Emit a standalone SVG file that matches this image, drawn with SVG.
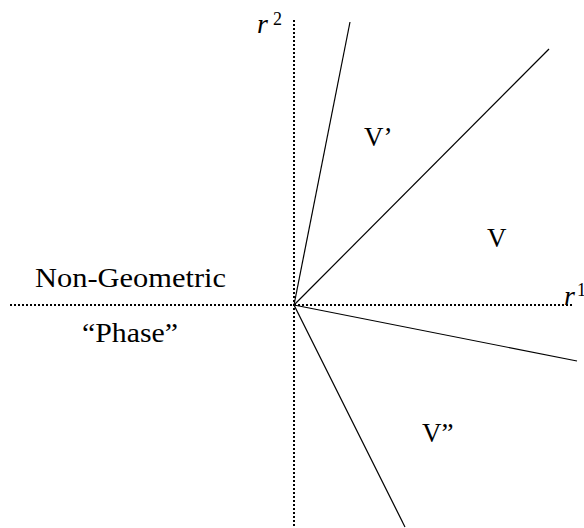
<svg xmlns="http://www.w3.org/2000/svg" width="584" height="528" viewBox="0 0 584 528">
<style>
.axis{stroke:#000;stroke-width:2;stroke-dasharray:2 2;fill:none}
.ray{stroke:#000;stroke-width:1.2;fill:none}
.t{font-family:"Liberation Serif","DejaVu Serif",serif;font-size:27px;fill:#000}
.m{font-family:"Liberation Serif","DejaVu Serif",serif;font-style:italic;font-size:28px;fill:#000}
.s{font-family:"Liberation Serif","DejaVu Serif",serif;font-size:18px;fill:#000}
</style>
<rect width="584" height="528" fill="#fff"/>
<g id="connectors">
<line class="axis" x1="294" y1="20" x2="294" y2="528"/>
<line class="axis" x1="10" y1="305" x2="572" y2="305"/>
<line class="ray" x1="294" y1="305" x2="350" y2="22"/>
<line class="ray" x1="294" y1="305" x2="549" y2="49"/>
<line class="ray" x1="294" y1="305" x2="577" y2="361"/>
<line class="ray" x1="294" y1="305" x2="405" y2="527"/>
</g>
<g id="r2"><text class="m" x="257" y="33">r</text><text class="s" x="273" y="25">2</text></g>
<g id="r1"><text class="m" x="564" y="305">r</text><text class="s" x="577" y="296">1</text></g>
<g id="nongeo"><text class="t" x="35" y="287" textLength="191" lengthAdjust="spacingAndGlyphs">Non-Geometric</text></g>
<g id="phase"><text class="t" x="82" y="342" textLength="96" lengthAdjust="spacingAndGlyphs">“Phase”</text></g>
<g id="Vp"><text class="t" x="364" y="146">V’</text></g>
<g id="V"><text class="t" x="487" y="247">V</text></g>
<g id="Vpp"><text class="t" x="422" y="442">V”</text></g>
</svg>
